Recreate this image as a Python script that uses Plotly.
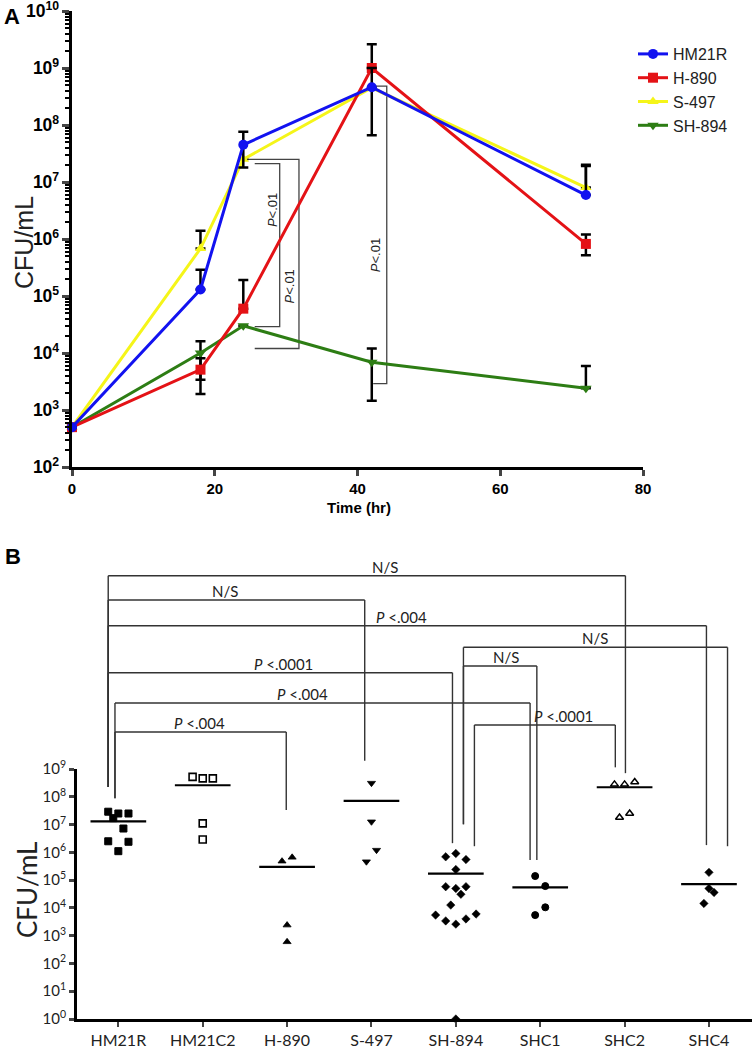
import math
import plotly.graph_objects as go

W, H = 756, 1050

# ---------------- Panel A data (growth curves) ----------------
time_hr = [0, 18, 24, 42, 72]
a_names = ["HM21R", "H-890", "S-497", "SH-894"]
hm21r = [5.0e2, 1.3e5, 4.5e7, 4.6e8, 5.9e6]
h890 = [5.0e2, 5.1e3, 6.0e4, 1.0e9, 8.2e5]
s497 = [5.0e2, 6.8e5, 2.5e7, 4.5e8, 8.0e6]
sh894 = [5.0e2, 1.0e4, 3.0e4, 6.9e3, 2.4e3]

# error bar ends (None = no bar drawn on that side)
hm21r_hi = [None, 2.9e5, 7.6e7, 1.0e9, 1.9e7]
hm21r_lo = [None, None, 1.8e7, 6.6e7, None]
h890_hi = [None, 8.1e3, 1.9e5, 2.6e9, 1.2e6]
h890_lo = [None, 1.9e3, None, None, 5.2e5]
s497_hi = [None, 1.4e6, None, None, 2.0e7]
s497_lo = [None, None, None, None, None]
sh894_hi = [None, 1.6e4, None, 1.2e4, 5.9e3]
sh894_lo = [None, 3.4e3, None, 1.45e3, None]

# significance brackets in panel A:
# (x_left_top, x_left_bottom, x_right, y_top, y_bottom, label_x, label_y)
a_brackets = [
    (25.6, 25.6, 29.1, 2.1e7, 2.9e4, 28.0, 3.2e6),
    (24.5, 25.6, 31.8, 2.5e7, 1.2e4, 30.5, 1.45e5),
    (42.2, 42.2, 44.1, 4.8e8, 2.9e3, 42.45, 5.2e5),
]
a_bracket_label = "<i>P</i>&lt;.01"

# ---------------- Panel B data (scatter by strain) ----------------
b_cats = ["HM21R", "HM21C2", "H-890", "S-497", "SH-894", "SHC1", "SHC2", "SHC4"]
b_hm21r = [2.9e7, 2.5e7, 2.5e7, 1.7e7, 7.2e6, 2.5e6, 2.4e6, 1.1e6]
b_hm21c2 = [5.2e8, 4.6e8, 4.6e8, 1.1e7, 2.9e6]
b_h890 = [4.8e5, 6.6e5, 2.4e3, 6.0e2]
b_s497 = [3.1e8, 1.26e7, 1.2e6, 4.6e5]
b_sh894 = [6.9e5, 9.1e5, 5.5e5, 2.4e5, 5.8e4, 5.0e4, 5.8e4, 3.1e4,
           1.26e4, 5.5e3, 6.0e3, 3.4e3, 4.0e3, 2.6e3, 1.0]
b_shc1 = [1.4e5, 6.1e4, 1.05e4, 5.5e3]
b_shc2 = [2.8e8, 2.8e8, 3.4e8, 1.8e7, 2.5e7]
b_shc4 = [1.9e5, 5.0e4, 3.6e4, 1.45e4]
b_means = [1.3e7, 2.6e8, 3.0e5, 7.1e7, 1.7e5, 5.5e4, 2.2e8, 7.2e4]
b_ytick_exponents = [0, 1, 2, 3, 4, 5, 6, 7, 8, 9]

# horizontal spread of points within a column (category units)
off_hm21r = [-0.12, 0, 0.12, -0.06, 0.06, -0.12, 0.12, 0]
off_hm21c2 = [-0.12, 0, 0.12, 0, 0]
off_h890 = [-0.06, 0.06, 0, 0]
off_s497 = [0, 0, 0.06, -0.06]
off_sh894 = [-0.12, 0, 0.12, 0, -0.12, 0, 0.12, 0.06, -0.06, -0.24, 0.24, -0.12, 0.12, 0, 0]
off_shc1 = [-0.06, 0.06, 0.06, -0.06]
off_shc2 = [-0.12, 0, 0.12, -0.06, 0.06]
off_shc4 = [0, 0, 0.06, -0.06]

# comparison brackets in panel B:
# (left cat, left dx, right cat, right dx, top px, left leg end log10, right leg end log10, label, label x cat)
b_brackets = [
    ("HM21R", -0.12, "SHC2", 0.01, 575.7, 8.35, 8.85, "N/S", 3.16),
    ("HM21R", -0.12, "S-497", -0.08, 600.0, 8.35, 9.3, "N/S", 1.27),
    ("HM21R", -0.12, "SHC4", -0.03, 625.7, 8.35, 6.26, "<i>P</i> &lt;.004", 3.35),
    ("HM21R", -0.12, "SH-894", -0.04, 672.7, 8.35, 6.33, "<i>P</i> &lt;.0001", 1.96),
    ("HM21R", -0.04, "SHC1", -0.12, 703.0, 7.95, 5.72, "<i>P</i> &lt;.004", 2.18),
    ("HM21R", -0.04, "H-890", -0.01, 732.0, 7.95, 7.52, "<i>P</i> &lt;.004", 0.96),
    ("SH-894", 0.09, "SHC4", 0.22, 647.3, 7.01, 6.22, "N/S", 5.65),
    ("SH-894", 0.09, "SHC1", -0.04, 666.0, 7.01, 5.72, "N/S", 4.60),
    ("SH-894", 0.22, "SHC2", -0.11, 725.0, 6.22, 9.06, "<i>P</i> &lt;.0001", 5.28),
]

# ---------------- Layout geometry ----------------
A_X = (72, 643)
A_Y = (467, 11)
B_X = (77, 752)
B_Y = (1019, 769)
B_XRANGE = (-0.49, 7.51)
B_YRANGE = (0, 9)

ARIAL = "Arial, Liberation Sans, sans-serif"
MYR = "Lato, Open Sans, sans-serif"


def px_x(p):
    return p / W


def px_y(p):
    return 1 - p / H


def bx(c):
    frac = (c - B_XRANGE[0]) / (B_XRANGE[1] - B_XRANGE[0])
    return px_x(B_X[0] + frac * (B_X[1] - B_X[0]))


def by_log(v):
    frac = (v - B_YRANGE[0]) / (B_YRANGE[1] - B_YRANGE[0])
    return px_y(B_Y[0] + frac * (B_Y[1] - B_Y[0]))


fig = go.Figure()


def err_arrays(vals, hi, lo):
    plus, minus = [], []
    for v, h, l in zip(vals, hi, lo):
        plus.append((h - v) if h is not None else 0)
        minus.append((v - l) if l is not None else 0)
    return plus, minus


shapes = []
annotations = []

# brackets of panel A (drawn first, beneath the data)
for xl, xlb, xr, yt, yb, lx, ly in a_brackets:
    fig.add_trace(go.Scatter(
        x=[xl, xr, xr, xlb], y=[yt, yt, yb, yb], mode="lines", showlegend=False,
        hoverinfo="skip", line=dict(color="#444444", width=1.3), xaxis="x", yaxis="y",
    ))
    annotations.append(dict(x=lx, y=math.log10(ly), xref="x", yref="y",
                            text=a_bracket_label, showarrow=False, textangle=-90,
                            xanchor="center", yanchor="middle",
                            font=dict(family=ARIAL, size=13, color="#222222")))

a_series = [
    ("SH-894", sh894, sh894_hi, sh894_lo, "rgb(45,125,20)", "triangle-down", 4),
    ("S-497", s497, s497_hi, s497_lo, "rgb(245,245,25)", "triangle-up", 3),
    ("H-890", h890, h890_hi, h890_lo, "rgb(228,18,22)", "square", 2),
    ("HM21R", hm21r, hm21r_hi, hm21r_lo, "rgb(18,18,240)", "circle", 1),
]
for name, vals, hi, lo, col, sym, rank in a_series:
    plus, minus = err_arrays(vals, hi, lo)
    fig.add_trace(go.Scatter(
        x=time_hr, y=vals, name=name, mode="lines+markers",
        line=dict(color=col, width=3),
        marker=dict(symbol=sym, size=10, color=col),
        error_y=dict(type="data", symmetric=False, array=plus, arrayminus=minus,
                     color="black", thickness=2.5, width=5),
        legendrank=rank, xaxis="x", yaxis="y", cliponaxis=False,
    ))

# ---------------- Panel B traces ----------------
b_series = [
    ("HM21R", b_hm21r, off_hm21r, "square", 7, 1),
    ("HM21C2", b_hm21c2, off_hm21c2, "square-open", 7, 1.6),
    ("H-890", b_h890, off_h890, "triangle-up", 7, 0.8),
    ("S-497", b_s497, off_s497, "triangle-down", 7, 0.8),
    ("SH-894", b_sh894, off_sh894, "diamond", 6.5, 0.5),
    ("SHC1", b_shc1, off_shc1, "circle", 7, 1),
    ("SHC2", b_shc2, off_shc2, "triangle-up-open", 7, 1.5),
    ("SHC4", b_shc4, off_shc4, "diamond", 6.5, 0.5),
]
for name, vals, offs, sym, size, lw in b_series:
    ci = b_cats.index(name)
    fig.add_trace(go.Scatter(
        x=[ci + o for o in offs], y=vals, mode="markers", showlegend=False,
        marker=dict(symbol=sym, size=size, color="black", line=dict(width=lw, color="black")),
        xaxis="x2", yaxis="y2", cliponaxis=False,
    ))
    fig.add_trace(go.Scatter(
        x=[ci - 0.33, ci + 0.33], y=[b_means[ci]] * 2, mode="lines", showlegend=False,
        line=dict(color="black", width=2.2), xaxis="x2", yaxis="y2",
    ))

for lc, ldx, rc, rdx, top, lb, rb, label, lab_c in b_brackets:
    xl = bx(b_cats.index(lc) + ldx)
    xr = bx(b_cats.index(rc) + rdx)
    yt = px_y(top)
    ln = dict(color="#333333", width=1.4)
    shapes.append(dict(type="line", xref="paper", yref="paper", x0=xl, x1=xr, y0=yt, y1=yt, line=ln))
    shapes.append(dict(type="line", xref="paper", yref="paper", x0=xl, x1=xl, y0=yt, y1=by_log(lb), line=ln))
    shapes.append(dict(type="line", xref="paper", yref="paper", x0=xr, x1=xr, y0=yt, y1=by_log(rb), line=ln))
    annotations.append(dict(x=bx(lab_c), y=yt, xref="paper", yref="paper", text=label,
                            showarrow=False, xanchor="center", yanchor="bottom", yshift=-2,
                            font=dict(family=MYR, size=15, color="#222222")))

# panel letters and axis titles
annotations += [
    dict(x=px_x(12), y=px_y(16), xref="paper", yref="paper", text="<b>A</b>", showarrow=False,
         xanchor="center", yanchor="middle", font=dict(family=ARIAL, size=22, color="black")),
    dict(x=px_x(13), y=px_y(556), xref="paper", yref="paper", text="<b>B</b>", showarrow=False,
         xanchor="center", yanchor="middle", font=dict(family=ARIAL, size=22, color="black")),
    dict(x=px_x(24), y=px_y(243), xref="paper", yref="paper", text="CFU/mL", showarrow=False,
         xanchor="center", yanchor="middle",
         textangle=-90, font=dict(family=ARIAL, size=25, color="#222222")),
    dict(x=px_x(27), y=px_y(890), xref="paper", yref="paper", text="CFU/mL", showarrow=False,
         xanchor="center", yanchor="middle",
         textangle=-90, font=dict(family=MYR, size=26, color="#222222")),
    dict(x=px_x(359), y=px_y(507), xref="paper", yref="paper", text="<b>Time (hr)</b>", showarrow=False,
         xanchor="center", yanchor="middle", font=dict(family=ARIAL, size=15, color="black")),
]

fig.update_layout(
    width=W, height=H, margin=dict(l=0, r=0, t=0, b=0, autoexpand=False),
    paper_bgcolor="white", plot_bgcolor="white",
    showlegend=True,
    legend=dict(x=px_x(633), y=px_y(37), xanchor="left", yanchor="top",
                font=dict(family=ARIAL, size=16, color="#222222"),
                bgcolor="rgba(0,0,0,0)", tracegroupgap=0),
    xaxis=dict(domain=[px_x(A_X[0]), px_x(A_X[1])], range=[0, 80], anchor="y", automargin=False,
               tickvals=[0, 20, 40, 60, 80], ticks="outside", ticklen=6, tickwidth=2.5,
               ticklabeloverflow="allow",
               showline=True, linewidth=3, linecolor="black", showgrid=False, zeroline=False,
               tickfont=dict(family=ARIAL, size=15, color="black", weight="bold")),
    yaxis=dict(domain=[px_y(A_Y[0]), px_y(A_Y[1])], type="log", range=[2, 10], anchor="x",
               automargin=False, ticklabeloverflow="allow",
               dtick=1, exponentformat="power", ticks="outside", ticklen=7, tickwidth=2.5,
               minor=dict(ticks="outside", ticklen=4, tickwidth=1.5, tickcolor="black", showgrid=False),
               showline=True, linewidth=3, linecolor="black", showgrid=False, zeroline=False,
               tickfont=dict(family=ARIAL, size=14, color="black", weight="bold")),
    xaxis2=dict(domain=[px_x(B_X[0]), px_x(B_X[1])], range=list(B_XRANGE), anchor="y2",
                automargin=False, ticklabeloverflow="allow",
                tickvals=list(range(len(b_cats))), ticktext=b_cats,
                ticks="outside", ticklen=5, tickwidth=2, showline=True, linewidth=3,
                linecolor="black", showgrid=False, zeroline=False,
                tickfont=dict(family=MYR, size=16, color="#222222")),
    yaxis2=dict(domain=[px_y(B_Y[0]), px_y(B_Y[1])], type="log", range=list(B_YRANGE), anchor="x2",
                automargin=False, ticklabeloverflow="allow",
                tickvals=[10 ** e for e in b_ytick_exponents],
                ticktext=[f"10<sup>{e}</sup>" for e in b_ytick_exponents],
                ticks="outside", ticklen=5, tickwidth=2.5,
                showline=True, linewidth=3, linecolor="black", showgrid=False, zeroline=False,
                tickfont=dict(family=MYR, size=15, color="#222222")),
    shapes=shapes, annotations=annotations,
)

fig.write_html("out.html", config={"displayModeBar": False},
               post_script="document.body.style.margin='0px';")
